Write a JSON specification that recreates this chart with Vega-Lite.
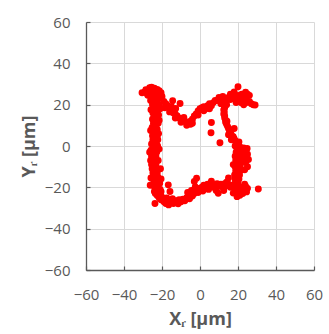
{
  "$schema": "https://vega.github.io/schema/vega-lite/v6.json",
  "autosize": "none",
  "width": 228,
  "height": 248,
  "padding": {"left": 86, "top": 22, "right": 15, "bottom": 64},
  "background": "white",
  "config": {
    "view": {"stroke": null},
    "axis": {
      "labelFont": "Open Sans", "labelFontSize": 15, "labelColor": "#595959", "labelOverlap": false, "labelFlush": false,
      "titleFont": "Open Sans", "titleFontSize": 18, "titleFontWeight": "bold", "titleColor": "#595959",
      "gridColor": "#d9d9d9", "gridWidth": 1, "domainColor": "#595959", "domainWidth": 1.3,
      "tickColor": "#595959", "tickSize": -4, "tickWidth": 1.2
    }
  },
  "data": {"values": [
    {"x":-30.5,"y":25.8},{"x":-29,"y":26.2},{"x":-28,"y":25.5},{"x":-27,"y":27},{"x":-26.5,"y":28.2},{"x":-25.5,"y":28.5},{"x":-25,"y":27.2},{"x":-24,"y":28},{"x":-23.5,"y":26.5},{"x":-22.5,"y":27.4},{"x":-26,"y":25.8},{"x":-24.5,"y":25},{"x":-22,"y":25.5},{"x":-21,"y":24.6},{"x":-20,"y":24},{"x":-27.5,"y":24.5},{"x":-25.5,"y":23.5},{"x":-23,"y":23.8},{"x":-24,"y":22.5},{"x":-26,"y":22},{"x":-22,"y":22.8},{"x":-21.5,"y":26.8},{"x":-28.5,"y":27.2},{"x":-20.5,"y":25.8},
    {"x":-24.5,"y":21},{"x":-22.5,"y":21},{"x":-25,"y":20},{"x":-23,"y":20},{"x":-21.5,"y":20},{"x":-23.8,"y":19},{"x":-22,"y":19},{"x":-24.5,"y":18},{"x":-22.8,"y":18},{"x":-21,"y":18},{"x":-23.5,"y":17},{"x":-24.8,"y":16},{"x":-22.5,"y":16},{"x":-23.5,"y":15},{"x":-21.8,"y":15},{"x":-24.2,"y":14},{"x":-22.8,"y":13},{"x":-25,"y":13},{"x":-23.5,"y":12},{"x":-24.5,"y":11},{"x":-22,"y":11},{"x":-23.2,"y":10},{"x":-25.2,"y":9},{"x":-23.8,"y":9},{"x":-22.5,"y":8},{"x":-24,"y":7},{"x":-22.8,"y":7},{"x":-23.5,"y":6},{"x":-25,"y":5},{"x":-22.5,"y":5},{"x":-23.8,"y":4},{"x":-24.8,"y":3},{"x":-22.2,"y":3},{"x":-23.5,"y":2},{"x":-25.5,"y":1},{"x":-23,"y":1},{"x":-24.2,"y":0},{"x":-22.3,"y":0},{"x":-23.5,"y":-1},{"x":-25.8,"y":-2},{"x":-23.8,"y":-2},{"x":-26.5,"y":-3},{"x":-24.5,"y":-3},{"x":-22.8,"y":-3},{"x":-24,"y":-4},{"x":-25.5,"y":-5},{"x":-23.2,"y":-5},{"x":-24.5,"y":-6},{"x":-26,"y":-7},{"x":-23.5,"y":-7},{"x":-22,"y":-7},{"x":-24.8,"y":-8},{"x":-25.5,"y":-9},{"x":-23.2,"y":-9},{"x":-24.2,"y":-10},{"x":-23,"y":-11},{"x":-25.2,"y":-11},{"x":-24,"y":-12},{"x":-22.5,"y":-13},{"x":-24.8,"y":-13},{"x":-23.5,"y":-14},{"x":-24.5,"y":-15},{"x":-22.2,"y":-15},{"x":-23.2,"y":-16},{"x":-24.2,"y":-17},{"x":-22,"y":-17},{"x":-23.5,"y":-18},{"x":-21.2,"y":-18},{"x":-22.8,"y":-19},{"x":-24.5,"y":-19},{"x":-22,"y":-20},{"x":-23.8,"y":-20},{"x":-23,"y":-21},{"x":-21,"y":-21},{"x":-22.5,"y":-22},{"x":-20.5,"y":-22},{"x":-24,"y":-22},{"x":-21.5,"y":-23},{"x":-23.5,"y":-23},{"x":-22.5,"y":-24},{"x":-20.5,"y":-24},{"x":-21.5,"y":-25},{"x":-19.8,"y":-25},{"x":-20.5,"y":-26},{"x":-18.5,"y":-26},{"x":-23.7,"y":-27.8},
    {"x":-21.5,"y":12.5},{"x":-21.8,"y":6},{"x":-21.5,"y":-1.5},{"x":-20.8,"y":-11},{"x":-20.5,"y":-16},{"x":-25.8,"y":-15.5},{"x":-26.2,"y":-19},{"x":-26,"y":7.5},{"x":-25.8,"y":17.5},
    {"x":-19,"y":-27},{"x":-18,"y":-27.8},{"x":-17,"y":-26.5},{"x":-16,"y":-27.5},{"x":-15,"y":-26.8},{"x":-14,"y":-27.8},{"x":-13,"y":-26.5},{"x":-12,"y":-27.2},{"x":-11,"y":-26},{"x":-10,"y":-27},{"x":-9,"y":-25.8},{"x":-8,"y":-26.5},{"x":-17.5,"y":-25.2},{"x":-14.5,"y":-25.5},{"x":-11.5,"y":-28},{"x":-16.5,"y":-28.5},
    {"x":-7,"y":-25},{"x":-6,"y":-24},{"x":-5.5,"y":-25.5},{"x":-5,"y":-23},{"x":-4,"y":-24.2},{"x":-3.5,"y":-22},{"x":-3,"y":-23},{"x":-2,"y":-21.5},{"x":-1,"y":-22.5},{"x":-0.5,"y":-20.5},{"x":0,"y":-21.5},{"x":-6.5,"y":-22.5},{"x":-4.5,"y":-21.5},{"x":-2.5,"y":-19.8},{"x":-1.8,"y":-15.6},{"x":-3,"y":-17.2},
    {"x":1,"y":-20},{"x":2,"y":-19},{"x":3,"y":-20.5},{"x":4,"y":-18.5},{"x":5,"y":-19.5},{"x":6,"y":-18},{"x":7,"y":-20},{"x":8,"y":-19},{"x":9,"y":-18.2},{"x":10,"y":-19.5},{"x":11,"y":-18.5},{"x":12,"y":-20},{"x":13,"y":-18.2},{"x":14,"y":-19.2},{"x":15,"y":-18.5},{"x":16,"y":-20},{"x":17,"y":-19},{"x":1.5,"y":-21.8},{"x":4.5,"y":-21},{"x":8.5,"y":-21.5},{"x":9.6,"y":-22.9},{"x":12.5,"y":-21.5},{"x":6,"y":-17},{"x":14,"y":-17.5},
    {"x":18,"y":-20},{"x":19,"y":-21.5},{"x":20,"y":-19},{"x":21,"y":-22},{"x":22,"y":-20},{"x":23,"y":-21},{"x":24,"y":-19.5},{"x":25,"y":-20.5},{"x":19.5,"y":-24.5},{"x":21,"y":-23.8},{"x":22.5,"y":-23},{"x":20,"y":-17.5},{"x":18.5,"y":-18},{"x":23.5,"y":-18.5},{"x":24.5,"y":-22.2},{"x":17.5,"y":-22.8},{"x":30.7,"y":-20.8},
    {"x":18.5,"y":-16},{"x":20.5,"y":-16},{"x":19.5,"y":-15},{"x":15,"y":-15.5},{"x":18.2,"y":-14},{"x":20.8,"y":-14},{"x":19.5,"y":-13},{"x":18.8,"y":-12},{"x":21.2,"y":-12},{"x":19.8,"y":-11},{"x":18.5,"y":-10},{"x":21,"y":-10},{"x":19.5,"y":-9},{"x":17.5,"y":-9},{"x":20.2,"y":-8},{"x":22,"y":-8},{"x":18.8,"y":-7},{"x":19.8,"y":-6},{"x":21.5,"y":-6},{"x":18.5,"y":-5},{"x":20,"y":-4},{"x":22.5,"y":-4},{"x":19,"y":-3},{"x":20.5,"y":-2},{"x":21.8,"y":-2},{"x":19.5,"y":-1},{"x":20.5,"y":0},{"x":18.5,"y":0},
    {"x":23,"y":-1},{"x":24,"y":-2.5},{"x":25,"y":-4},{"x":24.5,"y":-5.5},{"x":23.5,"y":-3.5},{"x":25.5,"y":-6.5},{"x":24,"y":-8},{"x":25,"y":-10},{"x":23.5,"y":-11.5},{"x":22.5,"y":-6.8},{"x":24.8,"y":-1.2},
    {"x":19.5,"y":1.5},{"x":18.5,"y":2.5},{"x":18,"y":3.5},{"x":17.5,"y":4.5},{"x":16.5,"y":5.5},{"x":16,"y":6.5},{"x":15.5,"y":7.5},{"x":15,"y":8.5},{"x":14.5,"y":9.5},{"x":14,"y":10.5},{"x":13.5,"y":11.5},{"x":13.5,"y":12.5},{"x":13,"y":13.5},{"x":13,"y":14.5},{"x":12.5,"y":15.5},{"x":12.8,"y":16.5},{"x":12.5,"y":17.5},{"x":13,"y":18.5},{"x":20.5,"y":2},{"x":19,"y":0.5},{"x":18,"y":8.5},{"x":21,"y":-0.5},{"x":16.5,"y":3},{"x":15,"y":5.5},{"x":14.2,"y":12},
    {"x":9,"y":22},{"x":10,"y":23.5},{"x":11,"y":22.5},{"x":12,"y":24},{"x":13,"y":23},{"x":14,"y":22},{"x":15,"y":23.5},{"x":16,"y":22.5},{"x":17,"y":24},{"x":18,"y":23},{"x":19,"y":22},{"x":20,"y":24.5},{"x":21,"y":23.5},{"x":22,"y":25},{"x":23,"y":24},{"x":24,"y":23},{"x":25,"y":25},{"x":22.5,"y":22},{"x":24.5,"y":21},{"x":26,"y":21.5},{"x":27,"y":20.5},{"x":28,"y":20},{"x":29,"y":19.8},{"x":20,"y":28.7},{"x":18,"y":26.2},{"x":24,"y":26},{"x":26,"y":24.5},{"x":21.5,"y":21},{"x":23,"y":20},{"x":11,"y":20.5},{"x":12,"y":21.5},{"x":14,"y":20},{"x":16,"y":25},{"x":19,"y":21},
    {"x":-19,"y":21.5},{"x":-18,"y":20.5},{"x":-17,"y":19.5},{"x":-16,"y":18.5},{"x":-15,"y":17},{"x":-14,"y":16},{"x":-13,"y":15.5},{"x":-12,"y":14.5},{"x":-11,"y":13.5},{"x":-10,"y":13},{"x":-9,"y":12.5},{"x":-8,"y":12},{"x":-7,"y":11.5},{"x":-6,"y":11},{"x":-5,"y":12},{"x":-4,"y":13},{"x":-3,"y":14.5},{"x":-2,"y":15.5},{"x":-1,"y":17},{"x":0,"y":18},{"x":1,"y":18.5},{"x":2,"y":19},{"x":3,"y":18},{"x":4,"y":19.5},{"x":5,"y":20.5},{"x":6,"y":19.5},{"x":7,"y":21},{"x":8,"y":22},{"x":-18.5,"y":18.5},{"x":-16,"y":16.5},{"x":-13,"y":13.5},{"x":-10,"y":11.5},{"x":-7,"y":10},{"x":-4,"y":11},{"x":-1,"y":15},{"x":2,"y":17},{"x":5,"y":18},{"x":-5,"y":10.5},{"x":-8.5,"y":13.8},{"x":-15,"y":19},
    {"x":-14.4,"y":21.9},{"x":-12.8,"y":18.2},{"x":-10.5,"y":20.6},{"x":6,"y":11.4},{"x":5.8,"y":6.4},{"x":10.5,"y":1.6},{"x":-16.7,"y":-18.8},{"x":-15.8,"y":-22}
  ]},
  "mark": {"type": "circle", "color": "#ff0000", "opacity": 1, "size": 48},
  "encoding": {
    "x": {"field": "x", "type": "quantitative", "scale": {"domain": [-60, 60]},
      "axis": {"values": [-60,-40,-20,0,20,40,60], "title": "Xᵣ [µm]", "labelPadding": 21, "titlePadding": 8}},
    "y": {"field": "y", "type": "quantitative", "scale": {"domain": [-60, 60]},
      "axis": {"values": [-60,-40,-20,0,20,40,60], "title": "Yᵣ [µm]", "labelPadding": 20, "titlePadding": 6}}
  }
}
